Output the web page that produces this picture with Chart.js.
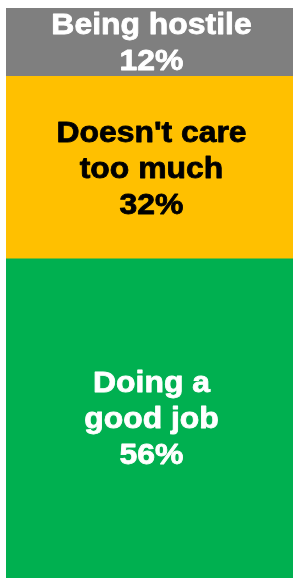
<!DOCTYPE html>
<html lang="en">
<head>
    <meta charset="UTF-8" />
    <title>Opinion split</title>
    <script src="https://cdn.jsdelivr.net/npm/chart.js"></script>
    <style>
        html, body { margin: 0; padding: 0; background: #fff; overflow: hidden; }
        canvas { display: block; }
    </style>
</head>
<body>
<canvas id="splitChart" width="294" height="578"></canvas>

<script>
    // stacked from bottom to top
    const categories = [
        ["Doing a", "good job"],
        ["Doesn't care", "too much"],
        ["Being hostile"]
    ];
    const values = [56, 32, 12];
    const barColors = ["#00B050", "#FFC000", "#7F7F7F"];
    const textColors = ["#FFFFFF", "#000000", "#FFFFFF"];

    // writes the category and percentage in the middle of each segment
    const segmentLabels = {
        id: "segmentLabels",
        afterDatasetsDraw(chart) {
            const ctx = chart.ctx;
            ctx.save();
            ctx.font = "bold 29px 'Liberation Sans', Arial, sans-serif";
            ctx.textAlign = "center";
            ctx.textBaseline = "alphabetic";
            ctx.lineJoin = "round";
            chart.data.datasets.forEach((ds, i) => {
                const bar = chart.getDatasetMeta(i).data[0];
                const lines = categories[i].concat([values[i] + "%"]);
                const lineH = 36;
                const midY = (bar.y + bar.base) / 2 + 10;
                const startY = midY - (lines.length - 1) * lineH / 2;
                ctx.fillStyle = textColors[i];
                ctx.strokeStyle = textColors[i];
                ctx.lineWidth = 0.8;
                lines.forEach((t, k) => {
                    ctx.save();
                    ctx.translate(bar.x + 2, startY + k * lineH);
                    ctx.scale(1.1, 1);
                    ctx.fillText(t, 0, 0);
                    ctx.strokeText(t, 0, 0);
                    ctx.restore();
                });
            });
            ctx.restore();
        }
    };

    const ctx = document.getElementById("splitChart").getContext("2d");
    new Chart(ctx, {
        type: "bar",
        data: {
            labels: [""],
            datasets: values.map((v, i) => ({
                label: categories[i].join(" "),
                data: [v],
                backgroundColor: barColors[i],
                borderWidth: 0,
                barPercentage: 1,
                categoryPercentage: 1
            }))
        },
        options: {
            responsive: false,
            animation: false,
            layout: { padding: { left: 6, top: 8, right: 1, bottom: 0 } },
            plugins: {
                legend: { display: false },
                tooltip: { enabled: false }
            },
            scales: {
                x: { stacked: true, display: false },
                y: { stacked: true, display: false, min: 0, max: 100 }
            }
        },
        plugins: [segmentLabels]
    });
</script>
</body>
</html>
